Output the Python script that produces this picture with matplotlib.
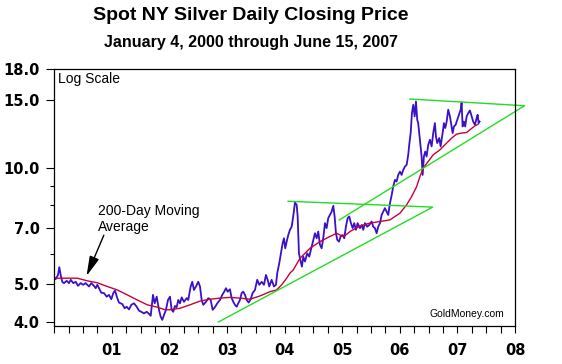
#Spot NY silver daily closing price, 2000 - mid 2007, log scale
import numpy as np
import matplotlib.pyplot as plt
from matplotlib.ticker import FixedLocator, NullFormatter

#Silver closing price (years since Jan 2000, US$/oz)
silver_t = [0.012, 0.024, 0.064, 0.087, 0.111, 0.139, 0.168, 0.215, 0.255, 0.285,
            0.330, 0.372, 0.411, 0.458, 0.503, 0.545, 0.602, 0.642, 0.689, 0.719,
            0.747, 0.776, 0.816, 0.863, 0.910, 0.950, 0.990, 1.024, 1.054, 1.094,
            1.123, 1.181, 1.222, 1.257, 1.297, 1.337, 1.384, 1.431, 1.470, 1.510,
            1.557, 1.604, 1.644, 1.674, 1.691, 1.714, 1.743, 1.778, 1.818, 1.847,
            1.875, 1.905, 1.939, 1.974, 2.009, 2.038, 2.066, 2.095, 2.125, 2.153,
            2.182, 2.212, 2.252, 2.299, 2.326, 2.368, 2.396, 2.425, 2.460, 2.500,
            2.530, 2.559, 2.587, 2.634, 2.674, 2.715, 2.750, 2.790, 2.830, 2.877,
            2.917, 2.951, 2.981, 3.010, 3.050, 3.080, 3.108, 3.137, 3.167, 3.194,
            3.224, 3.253, 3.281, 3.311, 3.340, 3.375, 3.410, 3.444, 3.484, 3.524,
            3.559, 3.601, 3.641, 3.675, 3.705, 3.733, 3.774, 3.814, 3.849, 3.872,
            3.906, 3.936, 3.965, 3.988, 4.010, 4.035, 4.063, 4.092, 4.122, 4.149,
            4.179, 4.208, 4.226, 4.248, 4.278, 4.300, 4.323, 4.352, 4.392, 4.427,
            4.469, 4.497, 4.526, 4.556, 4.583, 4.613, 4.642, 4.670, 4.700, 4.729,
            4.757, 4.786, 4.816, 4.844, 4.868, 4.891, 4.913, 4.943, 4.972, 5.007,
            5.035, 5.064, 5.094, 5.122, 5.151, 5.181, 5.208, 5.238, 5.267, 5.307,
            5.337, 5.365, 5.394, 5.434, 5.469, 5.510, 5.538, 5.568, 5.597, 5.625,
            5.655, 5.684, 5.712, 5.741, 5.771, 5.799, 5.828, 5.858, 5.885, 5.915,
            5.944, 5.972, 6.002, 6.031, 6.059, 6.089, 6.118, 6.146, 6.163, 6.188,
            6.210, 6.233, 6.257, 6.280, 6.302, 6.319, 6.337, 6.361, 6.378, 6.396,
            6.418, 6.441, 6.465, 6.493, 6.523, 6.552, 6.580, 6.609, 6.627, 6.649,
            6.684, 6.708, 6.743, 6.766, 6.788, 6.813, 6.840, 6.870, 6.899, 6.917,
            6.939, 6.969, 6.997, 7.026, 7.056, 7.073, 7.090, 7.113, 7.135, 7.160,
            7.188, 7.217, 7.247, 7.274, 7.304, 7.333, 7.351, 7.368, 7.385]
silver_price = [5.19, 5.16, 5.29, 5.54, 5.29, 5.08, 5.04, 5.11, 5.04, 5.14,
                5.04, 5.08, 4.96, 5.04, 4.99, 5.04, 4.94, 5.04, 4.96, 4.89,
                4.99, 4.89, 4.76, 4.75, 4.65, 4.70, 4.58, 4.75, 4.82, 4.61,
                4.49, 4.45, 4.34, 4.38, 4.31, 4.43, 4.47, 4.38, 4.28, 4.25,
                4.21, 4.25, 4.20, 4.15, 4.38, 4.70, 4.47, 4.65, 4.30, 4.13,
                4.05, 4.17, 4.30, 4.56, 4.65, 4.30, 4.25, 4.40, 4.37, 4.56,
                4.47, 4.63, 4.51, 4.61, 4.56, 4.94, 5.08, 4.84, 4.94, 5.08,
                4.94, 4.56, 4.43, 4.51, 4.61, 4.56, 4.30, 4.37, 4.47, 4.56,
                4.70, 4.79, 4.89, 4.79, 4.86, 4.61, 4.51, 4.43, 4.38, 4.47,
                4.56, 4.75, 4.79, 4.70, 4.56, 4.49, 4.58, 4.75, 4.84, 5.14,
                4.99, 5.08, 4.99, 5.29, 5.14, 4.94, 5.14, 4.94, 4.99, 5.35,
                5.67, 6.02, 6.39, 6.58, 6.20, 6.45, 6.71, 6.92, 7.05, 7.50,
                8.14, 8.03, 7.49, 6.02, 5.73, 5.56, 5.90, 5.73, 6.02, 5.90,
                6.26, 6.52, 6.78, 6.58, 6.85, 6.33, 6.20, 6.58, 7.20, 6.99,
                7.42, 7.56, 7.71, 7.98, 7.49, 6.78, 6.52, 6.45, 6.65, 6.71,
                6.58, 7.05, 7.42, 7.49, 7.20, 6.99, 7.20, 6.92, 7.20, 6.99,
                7.12, 6.92, 7.20, 7.05, 7.12, 7.27, 7.05, 6.99, 6.78, 7.05,
                7.20, 7.56, 7.71, 7.87, 7.71, 7.56, 8.10, 8.50, 8.95, 9.31,
                9.22, 9.59, 9.78, 9.59, 9.88, 10.08, 10.18, 10.81, 11.47, 12.30,
                13.85, 14.55, 13.58, 14.84, 13.31, 13.05, 12.30, 11.36, 10.70, 9.59,
                10.70, 11.02, 10.70, 11.47, 11.82, 11.36, 12.30, 13.05, 12.05, 11.59,
                11.94, 11.36, 12.30, 13.05, 12.67, 13.17, 14.13, 13.58, 12.79, 12.30,
                12.79, 12.92, 13.31, 13.71, 14.13, 14.75, 12.79, 13.17, 12.79, 13.58,
                13.85, 14.07, 13.58, 13.17, 12.92, 13.44, 13.71, 13.05, 13.17]

#200-day moving average
ma_t = [0.000, 0.399, 0.573, 0.747, 0.920, 1.094, 1.267, 1.441, 1.615, 1.788,
        1.905, 1.991, 2.182, 2.356, 2.530, 2.703, 2.877, 3.050, 3.224, 3.398,
        3.571, 3.745, 3.861, 3.948, 4.035, 4.092, 4.149, 4.266, 4.439, 4.613,
        4.786, 4.903, 4.960, 5.030, 5.134, 5.307, 5.481, 5.655, 5.828, 6.002,
        6.118, 6.205, 6.292, 6.349, 6.406, 6.493, 6.580, 6.696, 6.813, 6.899,
        6.986, 7.073, 7.160, 7.217, 7.304, 7.361]
ma_price = [5.19, 5.19, 5.11, 5.05, 4.94, 4.84, 4.70, 4.56, 4.43, 4.37,
            4.31, 4.30, 4.34, 4.43, 4.53, 4.58, 4.61, 4.63, 4.61, 4.58,
            4.67, 4.79, 4.84, 4.99, 5.19, 5.35, 5.45, 5.84, 6.20, 6.45,
            6.65, 6.78, 6.71, 6.65, 6.85, 7.08, 7.20, 7.27, 7.34, 7.64,
            8.03, 8.43, 8.95, 9.50, 9.98, 10.39, 10.81, 11.13, 11.59, 11.94,
            12.22, 12.30, 12.34, 12.54, 12.84, 12.97]

#Trend lines (two triangles): endpoints as (years since 2000, price)
small_tri_t = [4.06, 6.57, 2.85]
small_tri_p = [8.20, 7.92, 4.00]
big_tri_t = [6.175, 8.165, 4.95]
big_tri_p = [15.06, 14.47, 7.34]

y_ticks = [4, 5, 7, 10, 15, 18]
y_labels = ["4.0", "5.0", "7.0", "10.0", "15.0", "18.0"]
y_minor = [6, 8, 9]
x_years = [2001, 2002, 2003, 2004, 2005, 2006, 2007, 2008]
x_labels = ["01", "02", "03", "04", "05", "06", "07", "08"]

t = 2000 + np.array(silver_t)
ma = 2000 + np.array(ma_t)

fig = plt.figure(figsize=(5.62, 3.64), dpi=100)
ax = fig.add_axes([0.0966, 0.1044, 0.8198, 0.706])
ax.set_yscale("log")

ax.plot(t, silver_price, color="#3a10c8", lw=1.3)
ax.plot(ma, ma_price, color="#c8003c", lw=1.0)
ax.plot(2000 + np.array(small_tri_t), small_tri_p, color="#22dd22", lw=1.0, clip_on=False)
ax.plot(2000 + np.array(big_tri_t), big_tri_p, color="#22dd22", lw=1.0, clip_on=False)

ax.set_xlim(2000, 2008)
ax.set_ylim(3.906, 18)

ax.yaxis.set_major_locator(FixedLocator(y_ticks))
ax.yaxis.set_minor_locator(FixedLocator(y_minor))
ax.yaxis.set_minor_formatter(NullFormatter())
ax.set_yticklabels(y_labels)
ax.set_xticks(x_years)
ax.set_xticklabels(x_labels)
ax.set_xticks(np.arange(2000, 2008.01, 0.25), minor=True)

ax.tick_params(which="both", direction="out", width=0.8, color="black")
ax.tick_params(axis="y", which="major", length=5.5, pad=5)
ax.tick_params(axis="y", which="minor", length=3)
ax.tick_params(axis="x", which="both", length=5, pad=7)
for lab in ax.get_xticklabels() + ax.get_yticklabels():
    lab.set_family("DejaVu Sans")
    lab.set_fontweight("bold")
    lab.set_fontsize(10.5)
for s in ax.spines.values():
    s.set_linewidth(0.9)

#Labels and annotations
fig.text(0.4466, 0.957, "Spot NY Silver Daily Closing Price", ha="center", va="center",
         fontsize=14, fontweight="bold", family="Liberation Sans")
fig.text(0.4466, 0.882, "January 4, 2000 through June 15, 2007", ha="center", va="center",
         fontsize=11.5, fontweight="bold", family="Liberation Sans")
ax.text(0.008, 0.961, "Log Scale", transform=ax.transAxes, ha="left", va="center",
        fontsize=10, family="Liberation Sans")
ax.text(0.976, 0.047, "GoldMoney.com", transform=ax.transAxes, ha="right", va="center",
        fontsize=7.5, family="Liberation Sans")
ax.text(2000.759, 7.38, "200-Day Moving\nAverage", ha="left", va="center",
        fontsize=10, family="Liberation Sans", linespacing=1.2)
ax.annotate("", xy=(2000.56, 5.26), xytext=(2000.86, 6.70),
            arrowprops=dict(arrowstyle="-|>,head_length=1.0,head_width=0.25",
                            mutation_scale=12, color="black", lw=1,
                            shrinkA=0, shrinkB=0))

plt.savefig("out.png", dpi=100)
